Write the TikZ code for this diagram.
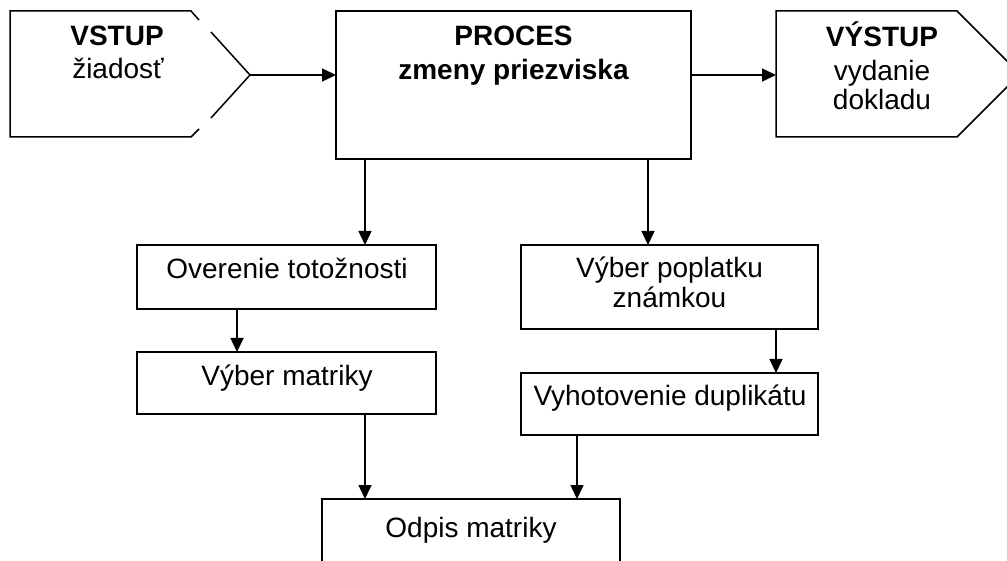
\documentclass[tikz,border=0pt]{standalone}
\usepackage{fontspec}
\setmainfont{Liberation Sans}
\usetikzlibrary{arrows.meta}
\begin{document}
\begin{tikzpicture}[x=0.5pt,y=-0.5pt,
  line width=0.75pt,
  box/.style={draw, rectangle, inner sep=0pt, outer sep=0pt},
  txt/.style={anchor=base, inner sep=0pt, font=\fontsize{14pt}{16pt}\selectfont},
  btxt/.style={anchor=base, inner sep=0pt, font=\fontsize{14pt}{16pt}\selectfont\bfseries},
  arr/.style={-{Triangle[length=7pt,width=6.5pt]}}]
\clip (0,0) rectangle (1007,561);
% VSTUP shape (pentagon with gaps)
\draw (199,20) -- (191,11) -- (10,11) -- (10,137) -- (191,137) -- (199,129);
\draw (211,32) -- (250,75) -- (211,118);
\coordinate (vin) at (250,75);
\node[btxt] (t1) at (117,46) {VSTUP};
\node[txt] (t2) at (118,79) {žiadosť};
% VYSTUP shape
\draw (776,11) -- (957,11) -- (1020,74) -- (957,137) -- (776,137) -- cycle;
\coordinate (vout) at (776,75);
\node[btxt] (t3) at (882,47) {VÝSTUP};
\node[txt] (t4) at (882,81) {vydanie};
\node[txt] (t5) at (882,110) {dokladu};
% boxes
\node[box, minimum width=177.5pt, minimum height=74pt] (proc) at (513.5,85) {};
\node[btxt] (t6) at (513.5,46) {PROCES};
\node[btxt] (t7) at (513.5,80) {zmeny priezviska};
\node[box, minimum width=149.5pt, minimum height=32pt] (over) at (286.5,277) {};
\node[txt] (t8) at (287,279) {Overenie totožnosti};
\node[box, minimum width=149.5pt, minimum height=31pt] (vyb) at (286.5,383) {};
\node[txt] (t9) at (287,386) {Výber matriky};
\node[box, minimum width=148.5pt, minimum height=42pt] (pop) at (669.5,287) {};
\node[txt] (t10) at (669.5,278) {Výber poplatku};
\node[txt] (t11) at (669.5,307) {známkou};
\node[box, minimum width=148.5pt, minimum height=31pt] (vyh) at (669.5,404) {};
\node[txt] (t12) at (670,405) {Vyhotovenie duplikátu};
\node[box, minimum width=149pt, minimum height=45pt] (odp) at (471,544) {};
\node[txt] (t13) at (471,537) {Odpis matriky};
% connector x positions
\coordinate (c1) at (365,0);
\coordinate (c2) at (648,0);
\coordinate (c3) at (237,0);
\coordinate (c4) at (776,0);
\coordinate (c6) at (577,0);
% connectors
\draw[arr] (vin) -- (vin -| proc.west);
\draw[arr] (proc.east |- vout) -- (vout);
\draw[arr] (c1 |- proc.south) -- (c1 |- over.north);
\draw[arr] (c2 |- proc.south) -- (c2 |- pop.north);
\draw[arr] (c3 |- over.south) -- (c3 |- vyb.north);
\draw[arr] (c4 |- pop.south) -- (c4 |- vyh.north);
\draw[arr] (c1 |- vyb.south) -- (c1 |- odp.north);
\draw[arr] (c6 |- vyh.south) -- (c6 |- odp.north);
\end{tikzpicture}
\end{document}
